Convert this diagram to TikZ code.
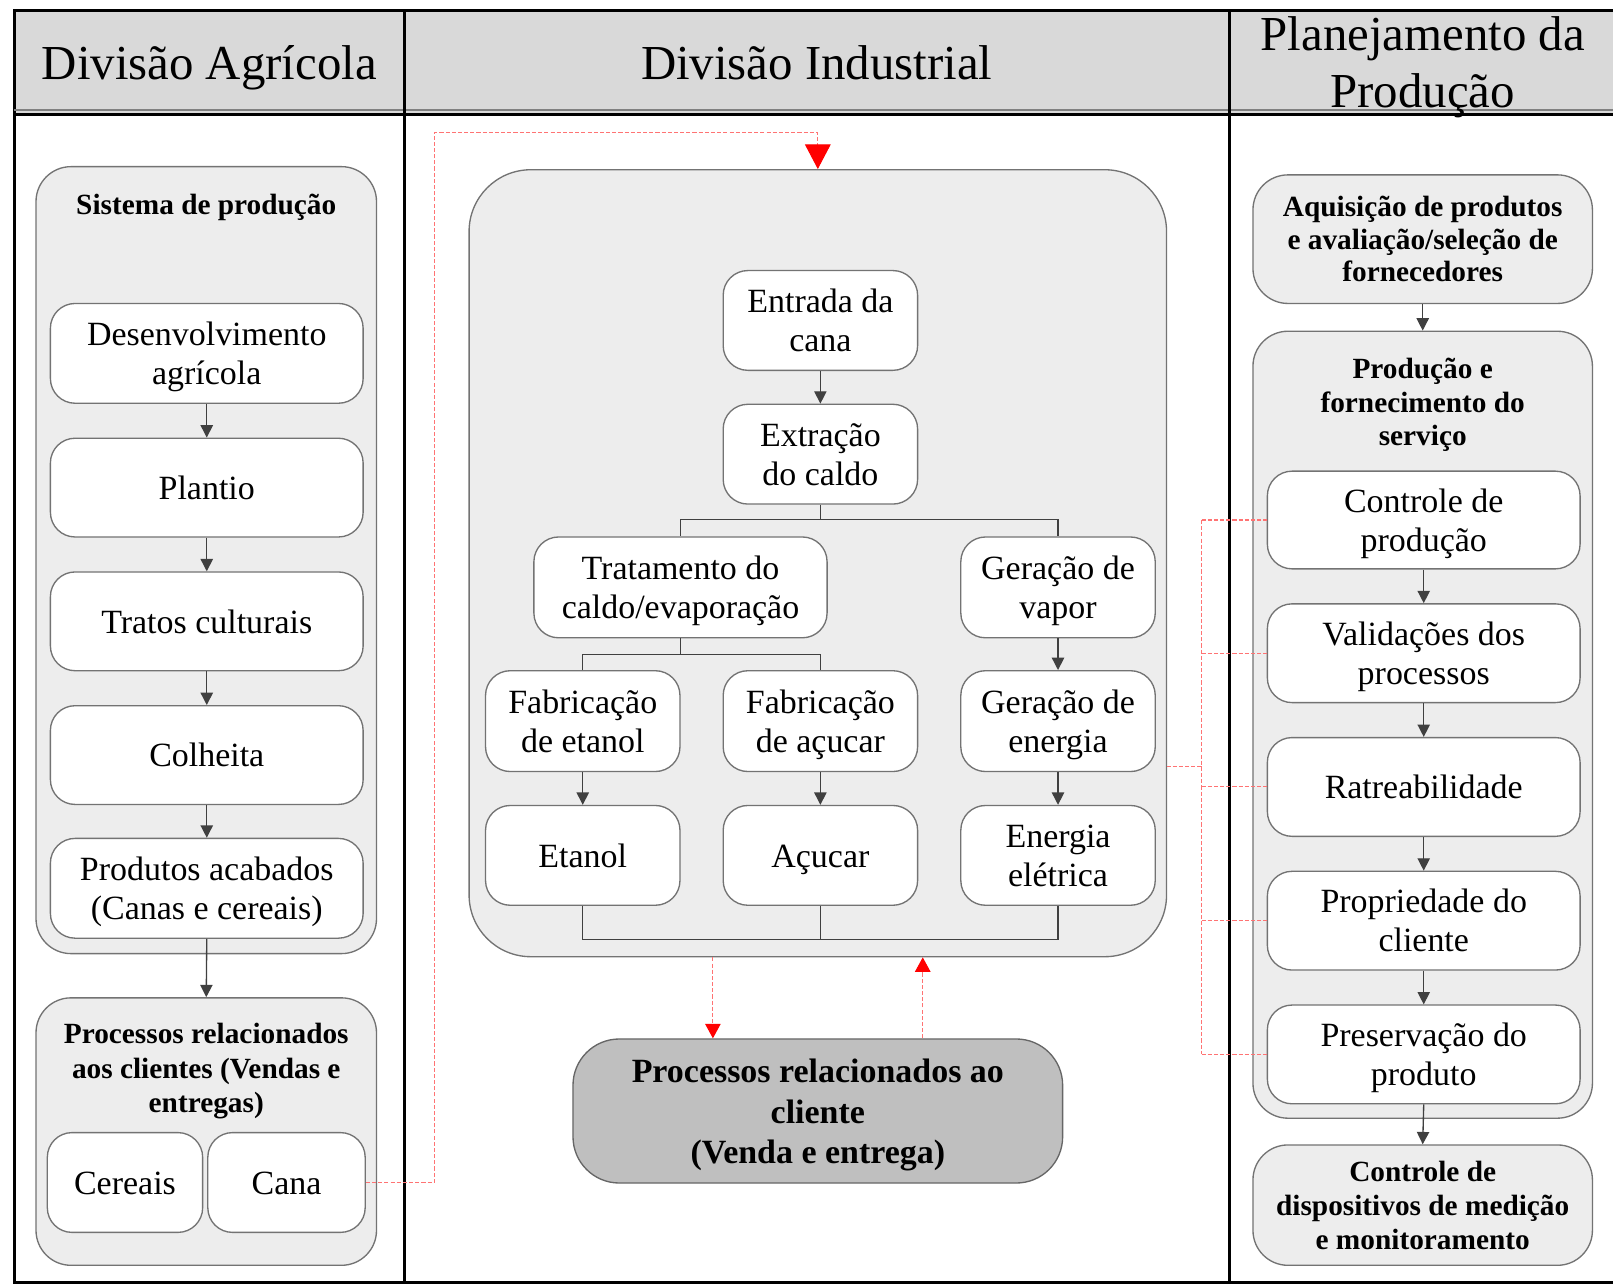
\documentclass[tikz,border=0pt]{standalone}
\usepackage{fontspec}
\setmainfont{Liberation Serif}
\usetikzlibrary{arrows.meta}
\newcommand{\mst}{\vrule width 0pt height 0.8\baselineskip depth 0.2\baselineskip}
\newcommand{\brk}{\mst\\\mst}
\begin{document}
\begin{tikzpicture}[x=1pt,y=-1pt,
  every node/.style={inner sep=0pt, align=center, text=black},
  st/.style={execute at begin node=\mst, execute at end node=\mst},
  body/.style={font=\fontsize{33}{38}\selectfont, st},
  btitle/.style={font=\fontsize{28.5}{33.5}\selectfont\bfseries, st},
  hdr/.style={font=\fontsize{47.5}{56}\selectfont, st},
  wbox/.style={draw=black!55, line width=1.3pt, fill=white, rounded corners=24pt, body},
  gbox/.style={draw=black!55, line width=1.3pt, fill=black!7, rounded corners=34pt},
  conn/.style={draw=black!75, line width=1.3pt},
  arr/.style={conn, -{Triangle[width=12pt,length=12pt]}},
  rdash/.style={draw=red!55, line width=1pt, dash pattern=on 4pt off 2pt},
  rarr/.style={rdash, -{Triangle[width=15pt,length=14pt,color=red]}},
  rarrbig/.style={rdash, -{Triangle[width=25pt,length=24pt,color=red]}},
  tbl/.style={draw=black, line width=3pt}
]
\useasboundingbox (0,0) rectangle (1568,1249);
% table
\fill[black!15] (14,10) rectangle (1568,110);
\draw[tbl] (1568,10) -- (14,10) -- (14,1247) -- (1568,1247);
\draw[draw=black!50, line width=1.5pt] (14,107) -- (1568,107);
\draw[tbl] (14,111) -- (1568,111);
\draw[tbl] (393,10) -- (393,1247);
\draw[tbl] (1195,10) -- (1195,1247);
\node[hdr] (h1) at (203.5,60) {Divisão Agrícola};
\node[hdr] (h2) at (794,60) {Divisão Industrial};
\node[hdr] (h3) at (1383,60) {Planejamento da\brk Produção};

% ---------- left column
\node[gbox, minimum width=331pt, minimum height=765pt] (sis) at (200.5,544.5) {};
\node[btitle] (sist) at (200.5,198) {Sistema de produção};
\node[wbox, minimum width=304pt, minimum height=97pt] (des) at (201,343.5) {Desenvolvimento\brk agrícola};
\node[wbox, minimum width=304pt, minimum height=96pt] (pla) at (201,474) {Plantio};
\node[wbox, minimum width=304pt, minimum height=96pt] (tra) at (201,604) {Tratos culturais};
\node[wbox, minimum width=304pt, minimum height=96pt] (col) at (201,734) {Colheita};
\node[wbox, minimum width=304pt, minimum height=97pt] (pro) at (201,863.5) {Produtos acabados\brk (Canas e cereais)};
\node[gbox, minimum width=331pt, minimum height=260pt] (proc) at (200.5,1100) {};
\node[btitle] (proct) at (200.5,1038) {Processos relacionados\brk aos clientes (Vendas e\brk entregas)};
\node[wbox, minimum width=151pt, minimum height=97pt] (cer) at (121.5,1149.5) {Cereais};
\node[wbox, minimum width=153pt, minimum height=97pt] (can) at (278.5,1149.5) {Cana};
\draw[arr] (des.south) -- (pla.north);
\draw[arr] (pla.south) -- (tra.north);
\draw[arr] (tra.south) -- (col.north);
\draw[arr] (col.south) -- (pro.north);
\draw[arr] (pro.south) -- (proc.north);

% ---------- middle column
\node[gbox, rounded corners=60pt, minimum width=678pt, minimum height=765pt] (ind) at (795,547.5) {};
\node[wbox, minimum width=189pt, minimum height=97pt] (ent) at (797.5,311.5) {Entrada da\brk cana};
\node[wbox, minimum width=189pt, minimum height=97pt] (ext) at (797.5,441.5) {Extração\brk do caldo};
\node[wbox, minimum width=285pt, minimum height=98pt] (trat) at (661.5,571) {Tratamento do\brk caldo/evaporação};
\node[wbox, minimum width=189pt, minimum height=98pt] (gv) at (1028.5,571) {Geração de\brk vapor};
\node[wbox, minimum width=189pt, minimum height=98pt] (fe) at (566.5,701) {Fabricação\brk de etanol};
\node[wbox, minimum width=189pt, minimum height=98pt] (fa) at (797.5,701) {Fabricação\brk de açucar};
\node[wbox, minimum width=189pt, minimum height=98pt] (ge) at (1028.5,701) {Geração de\brk energia};
\node[wbox, minimum width=189pt, minimum height=97pt] (et) at (566.5,831.5) {Etanol};
\node[wbox, minimum width=189pt, minimum height=97pt] (ac) at (797.5,831.5) {Açucar};
\node[wbox, minimum width=189pt, minimum height=97pt] (ee) at (1028.5,831.5) {Energia\brk elétrica};
\node[draw=black!60, line width=1.3pt, fill=black!25, rounded corners=45pt, minimum width=476pt, minimum height=140pt, st, font=\fontsize{33}{39}\selectfont\bfseries] (cli) at (795,1080) {Processos relacionados ao\brk cliente\brk (Venda e entrega)};

\draw[arr] (ent.south) -- (ext.north);
\coordinate (b1) at (797.5,505);
\draw[conn] (ext.south) -- (b1) -| (trat.north);
\draw[conn] (b1) -| (gv.north);
\coordinate (b2) at (661.5,636);
\draw[conn] (trat.south) -- (b2) -| (fe.north);
\draw[conn] (b2) -| (fa.north);
\draw[arr] (gv.south) -- (ge.north);
\draw[arr] (fe.south) -- (et.north);
\draw[arr] (fa.south) -- (ac.north);
\draw[arr] (ge.south) -- (ee.north);
\coordinate (b3) at (797.5,913);
\draw[conn] (et.south) |- (b3) -| (ee.south);
\draw[conn] (ac.south) -- (b3);

% red connectors
\coordinate (r1) at (422,129);
\draw[rarrbig] (can.east) -| (r1) -| (ind.north);
\coordinate (d1) at (693,970);
\coordinate (d2) at (897,970);
\draw[rarr] (ind.south -| d1) -- (cli.north -| d1);
\draw[rarr] (cli.north -| d2) -- (ind.south -| d2);

% ---------- right column
\node[gbox, minimum width=330pt, minimum height=125pt, st, font=\fontsize{28.5}{32}\selectfont\bfseries] (aq) at (1383,232.5) {Aquisição de produtos\brk e avaliação/seleção de\brk fornecedores};
\node[gbox, minimum width=330pt, minimum height=765pt] (pf) at (1383,704.5) {};
\node[st, font=\fontsize{28.5}{32.5}\selectfont\bfseries] (pft) at (1383,391) {Produção e\brk fornecimento do\brk serviço};
\node[wbox, minimum width=304pt, minimum height=95pt] (cp) at (1384,505.5) {Controle de\brk produção};
\node[wbox, minimum width=304pt, minimum height=96pt] (va) at (1384,635) {Validações dos\brk processos};
\node[wbox, minimum width=304pt, minimum height=96pt] (ra) at (1384,765) {Ratreabilidade};
\node[wbox, minimum width=304pt, minimum height=96pt] (pr) at (1384,895) {Propriedade do\brk cliente};
\node[wbox, minimum width=304pt, minimum height=96pt] (pv) at (1384,1025) {Preservação do\brk produto};
\node[gbox, minimum width=330pt, minimum height=117pt, st, font=\fontsize{28.5}{33.5}\selectfont\bfseries] (cd) at (1383,1171.5) {Controle de\brk dispositivos de medição\brk e monitoramento};
\draw[arr] (aq.south) -- (pf.north);
\draw[arr] (cp.south) -- (va.north);
\draw[arr] (va.south) -- (ra.north);
\draw[arr] (ra.south) -- (pr.north);
\draw[arr] (pr.south) -- (pv.north);
\draw[arr] (pv.south) -- (cd.north);

% red links to right column
\coordinate (ie) at (1134,745);
\coordinate (rv) at (1168,745);
\draw[rdash] (ie) -- (rv);
\draw[rdash] (rv |- cp.west) -- (rv |- pv.west);
\draw[rdash] (rv |- cp.west) -- (cp.west);
\draw[rdash] (rv |- va.west) -- (va.west);
\draw[rdash] (rv |- ra.west) -- (ra.west);
\draw[rdash] (rv |- pr.west) -- (pr.west);
\draw[rdash] (rv |- pv.west) -- (pv.west);
\end{tikzpicture}
\end{document}
